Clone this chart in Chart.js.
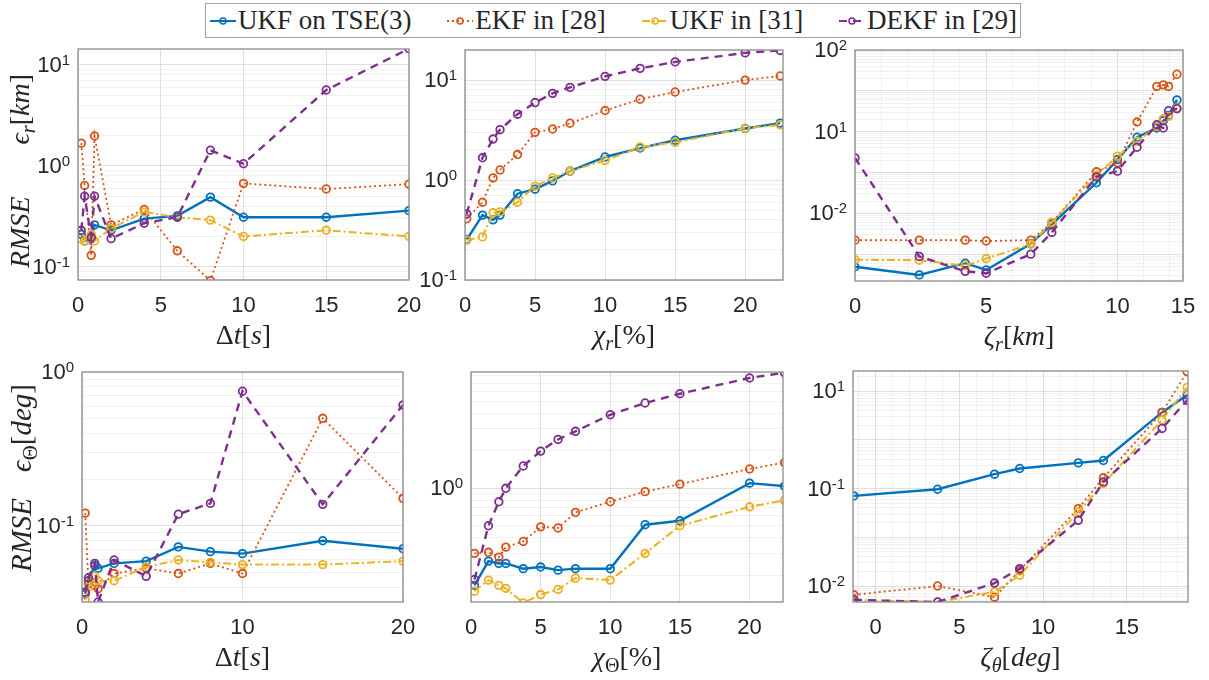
<!DOCTYPE html>
<html><head><meta charset="utf-8">
<script src="https://cdn.jsdelivr.net/npm/chart.js@4.4.1/dist/chart.umd.min.js"></script>
<style>
html,body{margin:0;padding:0;background:#fff;}
#wrap{position:relative;width:1209px;height:680px;overflow:hidden;background:#fff;}
#wrap canvas{position:absolute;left:0;top:0;}
#legend{position:absolute;left:205px;top:3px;width:816px;height:35px;border:1px solid #a0a0a0;background:#fff;display:flex;align-items:center;justify-content:space-between;padding:0 3px;box-sizing:border-box;font-family:"Liberation Serif",serif;font-size:27px;color:#262626;z-index:10;}
.item{display:flex;align-items:center;white-space:nowrap;}
.item svg{margin-right:1px;}
</style></head>
<body>
<div id="wrap"><div id="legend"></div></div>
<script>
// ---------------- data ----------------
const seriesNames = ['UKF on TSE(3)', 'EKF in [28]', 'UKF in [31]', 'DEKF in [29]'];
const seriesColors = ['#0072BD', '#D95319', '#EDB120', '#7E2F8E'];

// (a) position RMSE vs sampling time
const dtR = [0.2, 0.4, 0.8, 1, 2, 4, 6, 8, 10, 15, 20];
const dtR_ukfTse = [0.21, 0.18, 0.19, 0.26, 0.23, 0.30, 0.32, 0.49, 0.31, 0.31, 0.36];
const dtR_ekf28  = [1.68, 0.64, 0.13, 1.98, 0.26, 0.37, 0.144, 0.073, 0.67, 0.59, 0.66];
const dtR_ukf31  = [0.19, 0.18, 0.21, 0.18, 0.24, 0.35, 0.31, 0.29, 0.20, 0.23, 0.20];
const dtR_dekf29 = [0.23, 0.50, 0.195, 0.50, 0.19, 0.27, 0.31, 1.43, 1.05, 5.65, 14.5];

// (b) position RMSE vs chi_r
const chiR = [0.125, 1.25, 2, 2.5, 3.75, 5, 6.25, 7.5, 10, 12.5, 15, 20, 22.5];
const chiR_ukfTse = [0.254, 0.446, 0.40, 0.446, 0.73, 0.81, 0.98, 1.23, 1.70, 2.09, 2.5, 3.28, 3.71];
const chiR_ekf28  = [0.41, 0.60, 1.05, 1.26, 1.8, 3.0, 3.24, 3.7, 4.96, 6.43, 7.6, 10.0, 11.0];
const chiR_ukf31  = [0.25, 0.27, 0.47, 0.48, 0.60, 0.87, 1.05, 1.23, 1.57, 2.14, 2.38, 3.3, 3.57];
const chiR_dekf29 = [0.46, 1.67, 2.57, 3.19, 4.56, 5.96, 7.37, 8.45, 10.9, 13.1, 15.2, 18.7, 19.8];

// (c) position RMSE vs zeta_r
const zetaR = [0, 2.45, 4.2, 5.0, 6.7, 7.5, 9.2, 10, 10.75, 11.5, 11.75, 11.95, 12.27];
const zetaR_ukfTse = [0.00049, 0.00031, 0.0006, 0.00041, 0.0018, 0.0054, 0.056, 0.207, 0.73, 1.23, 1.85, 2.5, 6.0];
const zetaR_ekf28  = [0.0022, 0.0022, 0.0022, 0.0021, 0.0022, 0.0059, 0.104, 0.172, 1.72, 12.8, 14.0, 12.8, 25.5];
const zetaR_ukf31  = [0.00073, 0.00071, 0.00052, 0.00078, 0.00175, 0.006, 0.086, 0.25, 0.58, 1.35, 2.07, 2.37, 3.8];
const zetaR_dekf29 = [0.228, 0.00088, 0.00038, 0.00034, 0.001, 0.0034, 0.078, 0.108, 0.415, 1.48, 1.23, 3.25, 3.64];

// (d) attitude RMSE vs sampling time
const dtT = [0.2, 0.4, 0.8, 1, 2, 4, 6, 8, 10, 15, 20];
const dtT_ukfTse = [0.036, 0.044, 0.055, 0.053, 0.057, 0.059, 0.073, 0.068, 0.066, 0.080, 0.071];
const dtT_ekf28  = [0.121, 0.042, 0.041, 0.039, 0.049, 0.053, 0.049, 0.057, 0.049, 0.50, 0.151];
const dtT_ukf31  = [0.033, 0.040, 0.047, 0.044, 0.044, 0.054, 0.060, 0.058, 0.056, 0.056, 0.059];
const dtT_dekf29 = [0.037, 0.046, 0.057, 0.032, 0.060, 0.047, 0.119, 0.14, 0.75, 0.138, 0.61];

// (e) attitude RMSE vs chi_Theta
const chiT = [0.25, 1.25, 2, 2.5, 3.75, 5, 6.25, 7.5, 10, 12.5, 15, 20, 22.5];
const chiT_ukfTse = [0.166, 0.26, 0.249, 0.249, 0.226, 0.233, 0.22, 0.226, 0.226, 0.51, 0.548, 1.10, 1.04];
const chiT_ekf28  = [0.30, 0.306, 0.28, 0.337, 0.374, 0.49, 0.48, 0.64, 0.78, 0.94, 1.08, 1.43, 1.61];
const chiT_ukf31  = [0.149, 0.183, 0.166, 0.157, 0.12, 0.14, 0.154, 0.19, 0.183, 0.30, 0.50, 0.71, 0.80];
const chiT_dekf29 = [0.185, 0.50, 0.78, 1.0, 1.51, 1.99, 2.47, 2.87, 3.9, 4.85, 5.75, 7.7, 8.5];

// (f) attitude RMSE vs zeta_theta
const zetaT = [-1.3, 3.7, 7.1, 8.6, 12.1, 13.6, 17.1, 18.6];
const zetaT_ukfTse = [0.0706, 0.0968, 0.197, 0.258, 0.336, 0.376, 3.65, 8.3];
const zetaT_ekf28  = [0.00066, 0.001, 0.00059, 0.0021, 0.0388, 0.166, 3.65, 24.9];
const zetaT_ukf31  = [0.00052, 0.00047, 0.00076, 0.00166, 0.033, 0.127, 2.54, 11.9];
const zetaT_dekf29 = [0.00052, 0.00047, 0.00115, 0.00227, 0.0223, 0.137, 1.71, 6.5];

// tick values and labels
const xTicksA = [0, 5, 10, 15, 20];           const xLabelsA = ['0', '5', '10', '15', '20'];
const xTicksB = [0, 5, 10, 15, 20];           const xLabelsB = ['0', '5', '10', '15', '20'];
const xTicksC = [0, 5, 10, 12.5];             const xLabelsC = ['0', '5', '10', '15'];
const xTicksD = [0, 10, 20];                  const xLabelsD = ['0', '10', '20'];
const xTicksE = [0, 5, 10, 15, 20];           const xLabelsE = ['0', '5', '10', '15', '20'];
const xTicksF = [0, 5, 10, 15];               const xLabelsF = ['0', '5', '10', '15'];
const yTicksA = [0.1, 1, 10];                 const yLabelsA = ['10^-1', '10^0', '10^1'];
const yTicksB = [0.1, 1, 10];                 const yLabelsB = ['10^-1', '10^0', '10^1'];
const yTicksC = [0.01, 1, 100];               const yLabelsC = ['10^-2', '10^1', '10^2'];
const yTicksD = [0.1, 1];                     const yLabelsD = ['10^-1', '10^0'];
const yTicksE = [1];                          const yLabelsE = ['10^0'];
const yTicksF = [0.001, 0.1, 10];             const yLabelsF = ['10^-2', '10^-1', '10^1'];

// ---------------- rendering ----------------
const styles = [
  {w: 2.4, dash: [], order: 3},
  {w: 1.8, dash: [2, 3], order: 2},
  {w: 2.0, dash: [8, 3, 2, 3], order: 1},
  {w: 2.4, dash: [8, 6], order: 0}
];
const majorGrid = 'rgba(0,0,0,0.12)';
const minorGrid = 'rgba(0,0,0,0.05)';
const X_AXIS_H = 44;
const wrap = document.getElementById('wrap');

function range(a, b, s) { const r = []; for (let v = a; v <= b + 1e-9; v += s) r.push(Math.round(v * 1000) / 1000); return r; }

function logGrid(min, max) {
  const out = [];
  for (let n = Math.floor(Math.log10(min)); n <= Math.ceil(Math.log10(max)); n++) {
    for (let k = 1; k <= 9; k++) {
      const v = k * Math.pow(10, n);
      if (v >= min * 0.9999 && v <= max * 1.0001) out.push({value: v, major: k === 1});
    }
  }
  return out;
}

function drawRich(ctx, parts, x, y, size, rot) {
  ctx.save();
  ctx.translate(x, y);
  if (rot) ctx.rotate(-Math.PI / 2);
  const segs = parts.map(pt => {
    const s = pt.sub ? size * 0.72 : size;
    const font = (pt.i ? 'italic ' : '') + s + 'px "Liberation Serif", "DejaVu Serif", serif';
    ctx.font = font;
    return {pt, font, w: ctx.measureText(pt.t).width + (pt.gap || 0), dy: pt.sub ? size * 0.22 : 0};
  });
  const total = segs.reduce((a, s) => a + s.w, 0);
  let cx = -total / 2;
  ctx.fillStyle = '#262626';
  ctx.textBaseline = 'alphabetic';
  ctx.textAlign = 'left';
  segs.forEach(s => { ctx.font = s.font; ctx.fillText(s.pt.t, cx, s.dy); cx += s.w; });
  ctx.restore();
}

function makePanel(p) {
  const cv = document.createElement('canvas');
  cv.width = 1209; cv.height = 680;
  cv.style.width = '1209px'; cv.style.height = '680px';
  wrap.appendChild(cv);
  const datasets = p.ys.map((ys, i) => ({
    label: seriesNames[i],
    data: p.x.map((xv, j) => ({x: xv, y: ys[j]})),
    borderColor: seriesColors[i],
    backgroundColor: seriesColors[i],
    borderWidth: styles[i].w,
    borderDash: styles[i].dash,
    pointRadius: 3.8,
    pointBorderWidth: 1.8,
    pointBackgroundColor: 'rgba(255,255,255,0)',
    pointBorderColor: seriesColors[i],
    tension: 0,
    fill: false,
    order: styles[i].order
  }));
  const frame = {
    id: 'frame' + p.id,
    afterDraw(chart) {
      const ctx = chart.ctx, a = chart.chartArea;
      ctx.save();
      ctx.strokeStyle = '#8a8a8a';
      ctx.lineWidth = 1.3;
      ctx.strokeRect(a.left, a.top, a.right - a.left, a.bottom - a.top);
      // y tick labels with superscript exponents
      const ys = chart.scales.y;
      ctx.fillStyle = '#262626';
      p.yTicks.forEach((v, k) => {
        const lab = p.yLabels[k];
        const parts = lab.split('^');
        const py = ys.getPixelForValue(v);
        ctx.font = '15px "Liberation Sans", Arial, sans-serif';
        const we = ctx.measureText(parts[1]).width;
        ctx.font = '22px "Liberation Sans", Arial, sans-serif';
        const wb = ctx.measureText(parts[0]).width;
        const right = a.left - 8;
        ctx.textAlign = 'left';
        ctx.textBaseline = 'middle';
        ctx.fillText(parts[0], right - we - wb, py + 1);
        ctx.font = '15px "Liberation Sans", Arial, sans-serif';
        ctx.textBaseline = 'alphabetic';
        ctx.fillText(parts[1], right - we, py);
      });
      ctx.restore();
      drawRich(ctx, p.xTitle, (a.left + a.right) / 2, a.bottom + 64, 28, false);
      if (p.yTitle) drawRich(ctx, p.yTitle, p.yTitlePos[0], p.yTitlePos[1], p.yTitleSize, true);
    }
  };
  const xGridVals = p.xGrid;
  new Chart(cv, {
    type: 'line',
    data: {datasets},
    options: {
      responsive: false,
      animation: false,
      events: [],
      devicePixelRatio: 1,
      layout: {padding: {left: p.rect[0], top: p.rect[1], right: 1209 - p.rect[2], bottom: 680 - p.rect[3] - X_AXIS_H}},
      plugins: {legend: {display: false}, tooltip: {enabled: false}},
      scales: {
        x: {
          type: 'linear', min: p.xMin, max: p.xMax, bounds: 'data',
          afterBuildTicks: s => { s.ticks = xGridVals.map(v => ({value: v, major: p.xTicks.some(t => Math.abs(t - v) < 1e-6)})); },
          afterFit: s => { s.height = X_AXIS_H; },
          ticks: {
            autoSkip: false, maxRotation: 0, minRotation: 0, padding: 13, color: '#262626',
            font: {family: '"Liberation Sans", Arial, sans-serif', size: 22},
            callback: (v) => { const k = p.xTicks.findIndex(t => Math.abs(t - v) < 1e-6); return k >= 0 ? p.xLabels[k] : ''; }
          },
          grid: {drawTicks: false, color: c => (c.tick && c.tick.major) ? majorGrid : minorGrid, lineWidth: 1},
          border: {display: false}
        },
        y: {
          type: 'logarithmic', min: p.yMin, max: p.yMax, bounds: 'data',
          afterBuildTicks: s => { s.ticks = logGrid(p.yMin, p.yMax); },
          afterFit: s => { s.width = 0; },
          ticks: {display: false},
          grid: {drawTicks: false, color: c => (c.tick && c.tick.major) ? majorGrid : minorGrid, lineWidth: 1},
          border: {display: false}
        }
      }
    },
    plugins: [frame]
  });
}

const T = (t, o) => Object.assign({t}, o || {});
const yTitleR = [T('RMSE', {i: true}), T('', {gap: 52}), T('ϵ', {i: true}), T('r', {i: true, sub: true}), T('['), T('km', {i: true}), T(']')];
const yTitleT = [T('RMSE', {i: true}), T('', {gap: 26}), T('ϵ', {i: true}), T('Θ', {sub: true}), T('['), T('deg', {i: true}), T(']')];

const panels = [
  {id: 'a', rect: [78, 49, 409, 280], x: dtR, ys: [dtR_ukfTse, dtR_ekf28, dtR_ukf31, dtR_dekf29],
   xMin: 0, xMax: 20, xTicks: xTicksA, xLabels: xLabelsA, xGrid: xTicksA,
   yMin: 0.074, yMax: 14.4, yTicks: yTicksA, yLabels: yLabelsA,
   xTitle: [T('Δ'), T('t', {i: true}), T('['), T('s', {i: true}), T(']')],
   yTitle: yTitleR, yTitlePos: [29, 171], yTitleSize: 28},
  {id: 'b', rect: [465, 50, 783, 280], x: chiR, ys: [chiR_ukfTse, chiR_ekf28, chiR_ukf31, chiR_dekf29],
   xMin: 0, xMax: 22.7, xTicks: xTicksB, xLabels: xLabelsB, xGrid: xTicksB,
   yMin: 0.1, yMax: 20, yTicks: yTicksB, yLabels: yLabelsB,
   xTitle: [T('χ', {i: true}), T('r', {i: true, sub: true}), T('[%]')]},
  {id: 'c', rect: [855, 50, 1183, 281], x: zetaR, ys: [zetaR_ukfTse, zetaR_ekf28, zetaR_ukf31, zetaR_dekf29],
   xMin: 0, xMax: 12.5, xTicks: xTicksC, xLabels: xLabelsC, xGrid: range(0, 12, 1).concat([12.5]),
   yMin: 0.00022, yMax: 100, yTicks: yTicksC, yLabels: yLabelsC,
   xTitle: [T('ζ', {i: true}), T('r', {i: true, sub: true}), T('['), T('km', {i: true}), T(']')]},
  {id: 'd', rect: [82, 372, 403, 602], x: dtT, ys: [dtT_ukfTse, dtT_ekf28, dtT_ukf31, dtT_dekf29],
   xMin: 0, xMax: 20, xTicks: xTicksD, xLabels: xLabelsD, xGrid: xTicksD,
   yMin: 0.032, yMax: 1, yTicks: yTicksD, yLabels: yLabelsD,
   xTitle: [T('Δ'), T('t', {i: true}), T('['), T('s', {i: true}), T(']')],
   yTitle: yTitleT, yTitlePos: [31, 478], yTitleSize: 29},
  {id: 'e', rect: [471, 372, 783, 602], x: chiT, ys: [chiT_ukfTse, chiT_ekf28, chiT_ukf31, chiT_dekf29],
   xMin: 0, xMax: 22.4, xTicks: xTicksE, xLabels: xLabelsE, xGrid: xTicksE,
   yMin: 0.122, yMax: 8.6, yTicks: yTicksE, yLabels: yLabelsE,
   xTitle: [T('χ', {i: true}), T('Θ', {sub: true}), T('[%]')]},
  {id: 'f', rect: [853, 371, 1188, 602], x: zetaT, ys: [zetaT_ukfTse, zetaT_ekf28, zetaT_ukf31, zetaT_dekf29],
   xMin: -1.35, xMax: 18.65, xTicks: xTicksF, xLabels: xLabelsF, xGrid: range(-1, 18, 1),
   yMin: 0.00047, yMax: 25.8, yTicks: yTicksF, yLabels: yLabelsF,
   xTitle: [T('ζ', {i: true}), T('θ', {i: true, sub: true}), T('['), T('deg', {i: true}), T(']')]}
];
panels.forEach(makePanel);

// legend
const leg = document.getElementById('legend');
seriesNames.forEach((name, i) => {
  const it = document.createElement('div');
  it.className = 'item';
  const dash = styles[i].dash.length ? styles[i].dash.join(' ') : 'none';
  it.innerHTML = '<svg width="28" height="16" viewBox="0 0 28 16"><line x1="1" y1="8" x2="27" y2="8" stroke="' + seriesColors[i] +
    '" stroke-width="' + Math.min(styles[i].w, 2) + '" stroke-dasharray="' + dash + '"/><circle cx="14" cy="8" r="3" fill="none" stroke="' + seriesColors[i] +
    '" stroke-width="1.5"/></svg><span></span>';
  it.querySelector('span').textContent = name;
  leg.appendChild(it);
});
</script>
</body></html>
